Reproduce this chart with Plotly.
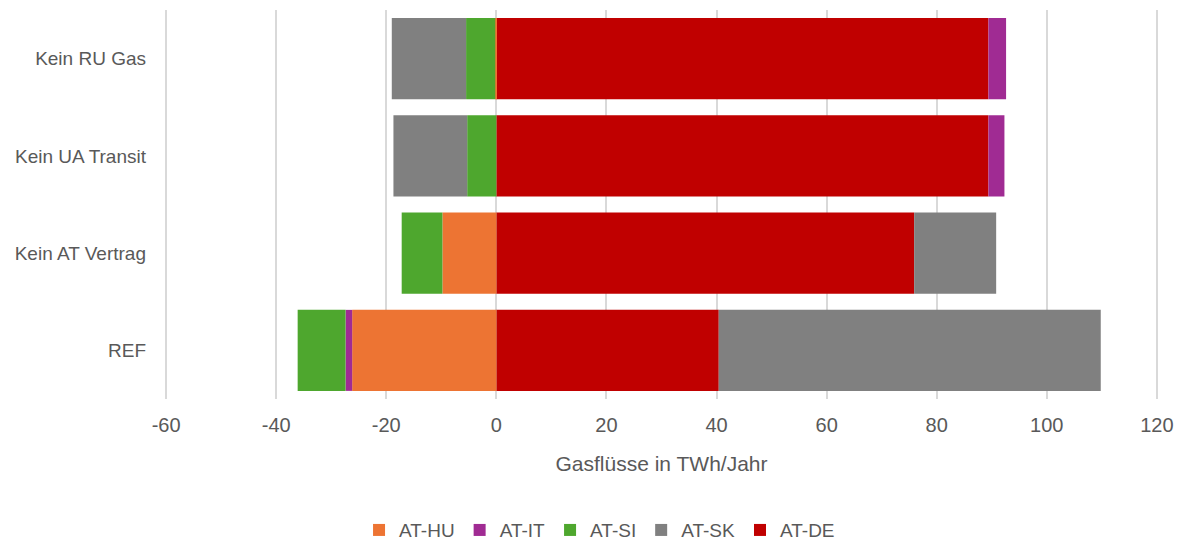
import plotly.graph_objects as go

categories = ["REF", "Kein AT Vertrag", "Kein UA Transit", "Kein RU Gas"]
at_de = [40.4, 75.9, 89.4, 89.4]
at_hu = [-26.2, -9.8, 0.0, -0.2]
at_it = [-1.2, 0.0, 2.9, 3.2]
at_si = [-8.7, -7.4, -5.3, -5.3]
at_sk = [69.4, 14.9, -13.4, -13.5]

x_tick_values = [-60, -40, -20, 0, 20, 40, 60, 80, 100, 120]
x_tick_labels = ["-60", "-40", "-20", "0", "20", "40", "60", "80", "100", "120"]

series = [
    ("AT-DE", at_de, "#C00000", 5),
    ("AT-HU", at_hu, "#ED7433", 1),
    ("AT-IT", at_it, "#A02B93", 2),
    ("AT-SI", at_si, "#4EA72E", 3),
    ("AT-SK", at_sk, "#808080", 4),
]

fig = go.Figure()
for name, vals, color, rank in series:
    fig.add_trace(go.Bar(
        y=categories, x=vals, name=name, orientation="h",
        marker=dict(color=color, line=dict(width=0)),
        legendrank=rank,
    ))

font_color = "#595959"
fig.update_layout(
    barmode="relative",
    bargap=0.167,
    width=1178, height=541,
    margin=dict(l=165, r=20, t=10, b=142, autoexpand=False),
    plot_bgcolor="white", paper_bgcolor="white",
    font=dict(family="Liberation Sans, Arial, sans-serif", size=19, color=font_color),
    xaxis=dict(
        range=[-60.2, 120.2], tickvals=x_tick_values, ticktext=x_tick_labels,
        showgrid=True, gridcolor="#D9D9D9", gridwidth=2,
        zeroline=False, showline=False, ticks="", automargin=False,
        ticklabelstandoff=12,
        title=dict(text="Gasflüsse in TWh/Jahr", font=dict(size=21, color=font_color), standoff=21),
        tickfont=dict(size=20, color=font_color),
    ),
    yaxis=dict(
        showgrid=False, zeroline=False, showline=False, ticks="", automargin=False,
        ticklabelstandoff=18,
        tickfont=dict(size=19, color=font_color),
    ),
    legend=dict(
        orientation="h", x=0.4376, xanchor="center", y=-0.337, yanchor="middle",
        font=dict(size=19, color=font_color), itemwidth=30,
    ),
)

fig.write_html(
    "out.html",
    config={"displayModeBar": False},
    post_script="document.body.style.margin='0';document.body.style.overflow='hidden';",
)
